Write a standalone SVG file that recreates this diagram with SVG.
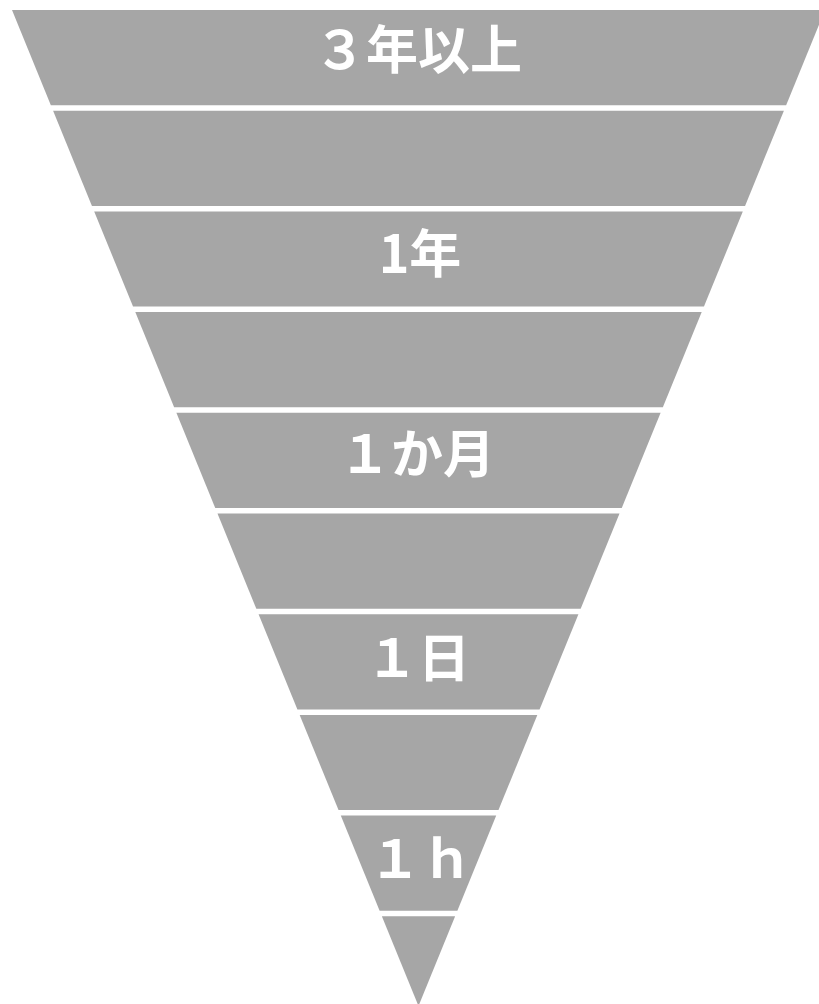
<svg xmlns="http://www.w3.org/2000/svg" width="819" height="1004" viewBox="0 0 819 1004">
<style>
.band{fill:#a6a6a6;}
.lbl{fill:#ffffff;font-family:"Noto Sans CJK JP","Noto Sans",sans-serif;font-weight:bold;font-size:52px;text-anchor:middle;}
</style>
<rect width="819" height="1004" fill="#ffffff"/>
<g id="band1"><polygon class="band" points="12,10 825,10 786.15,105.2 50.85,105.2"/><text class="lbl" x="418" y="69">３年以上</text></g>
<g id="band2"><polygon class="band" points="53.10,110.7 783.90,110.7 745.05,205.9 91.95,205.9"/></g>
<g id="band3"><polygon class="band" points="94.19,211.4 742.81,211.4 703.96,306.6 133.04,306.6"/><text class="lbl" x="420" y="273">1年</text></g>
<g id="band4"><polygon class="band" points="135.29,312.1 701.71,312.1 662.86,407.3 174.14,407.3"/></g>
<g id="band5"><polygon class="band" points="176.38,412.8 660.62,412.8 621.77,508 215.23,508"/><text class="lbl" x="417" y="473">１か月</text></g>
<g id="band6"><polygon class="band" points="217.48,513.5 619.52,513.5 580.67,608.7 256.33,608.7"/></g>
<g id="band7"><polygon class="band" points="258.57,614.2 578.43,614.2 539.58,709.4 297.42,709.4"/><text class="lbl" x="418" y="677">１日</text></g>
<g id="band8"><polygon class="band" points="299.67,714.9 537.33,714.9 498.48,810.1 338.52,810.1"/></g>
<g id="band9"><polygon class="band" points="340.77,815.6 496.23,815.6 457.38,910.8 379.62,910.8"/><text class="lbl" x="421" y="878">１ｈ</text></g>
<g id="band10"><polygon class="band" points="381.86,916.3 455.14,916.3 418.5,1006"/></g>
<g id="connectors"></g>
</svg>
